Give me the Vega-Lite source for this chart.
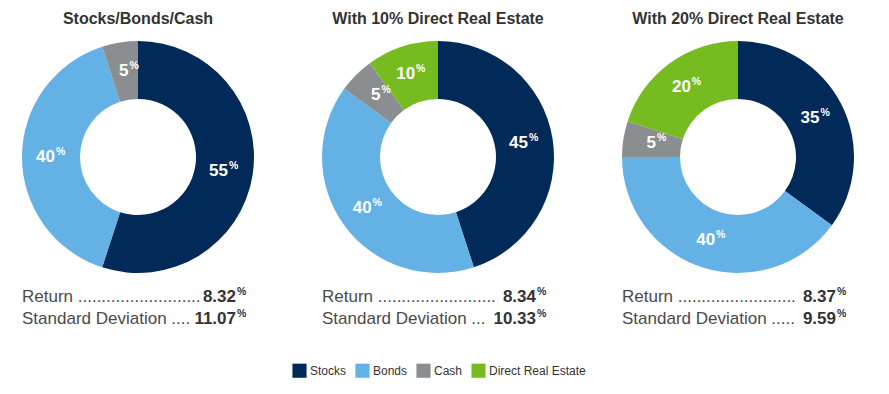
{
  "$schema": "https://vega.github.io/schema/vega-lite/v6.json",
  "padding": {"left": 22, "top": 11, "right": 0, "bottom": 0},
  "background": "white",
  "data": {
    "values": [
      {"portfolio": "Stocks/Bonds/Cash", "asset": "Stocks", "seq": 1, "pct": 55},
      {"portfolio": "Stocks/Bonds/Cash", "asset": "Bonds", "seq": 2, "pct": 40},
      {"portfolio": "Stocks/Bonds/Cash", "asset": "Cash", "seq": 3, "pct": 5},
      {"portfolio": "With 10% Direct Real Estate", "asset": "Stocks", "seq": 1, "pct": 45},
      {"portfolio": "With 10% Direct Real Estate", "asset": "Bonds", "seq": 2, "pct": 40},
      {"portfolio": "With 10% Direct Real Estate", "asset": "Cash", "seq": 3, "pct": 5},
      {"portfolio": "With 10% Direct Real Estate", "asset": "Direct Real Estate", "seq": 4, "pct": 10},
      {"portfolio": "With 20% Direct Real Estate", "asset": "Stocks", "seq": 1, "pct": 35},
      {"portfolio": "With 20% Direct Real Estate", "asset": "Bonds", "seq": 2, "pct": 40},
      {"portfolio": "With 20% Direct Real Estate", "asset": "Cash", "seq": 3, "pct": 5},
      {"portfolio": "With 20% Direct Real Estate", "asset": "Direct Real Estate", "seq": 4, "pct": 20},
      {"portfolio": "Stocks/Bonds/Cash", "metric": "Return", "leader": "Return ..........................", "value": 8.32},
      {"portfolio": "Stocks/Bonds/Cash", "metric": "Standard Deviation", "leader": "Standard Deviation ....", "value": 11.07},
      {"portfolio": "With 10% Direct Real Estate", "metric": "Return", "leader": "Return .........................", "value": 8.34},
      {"portfolio": "With 10% Direct Real Estate", "metric": "Standard Deviation", "leader": "Standard Deviation ...", "value": 10.33},
      {"portfolio": "With 20% Direct Real Estate", "metric": "Return", "leader": "Return .........................", "value": 8.37},
      {"portfolio": "With 20% Direct Real Estate", "metric": "Standard Deviation", "leader": "Standard Deviation .....", "value": 9.59}
    ]
  },
  "facet": {
    "column": {
      "field": "portfolio",
      "type": "nominal",
      "sort": ["Stocks/Bonds/Cash", "With 10% Direct Real Estate", "With 20% Direct Real Estate"],
      "header": {
        "title": null,
        "labelFont": "Liberation Sans",
        "labelFontSize": 16,
        "labelFontWeight": "bold",
        "labelColor": "#333333",
        "labelPadding": 14
      }
    }
  },
  "spacing": 68,
  "spec": {
    "width": 232,
    "height": 232,
    "layer": [
      {
        "transform": [{"filter": "isValid(datum.pct)"}],
        "mark": {"type": "arc", "outerRadius": 116, "innerRadius": 58},
        "encoding": {
          "theta": {"field": "pct", "type": "quantitative", "stack": true},
          "order": {"field": "seq", "type": "quantitative"},
          "color": {
            "field": "asset",
            "type": "nominal",
            "scale": {
              "domain": ["Stocks", "Bonds", "Cash", "Direct Real Estate"],
              "range": ["#022a58", "#63b1e5", "#8b8e90", "#76bc21"]
            },
            "legend": {"title": null, "orient": "none", "direction": "horizontal", "legendX": 270, "legendY": 322}
          }
        }
      },
      {
        "transform": [{"filter": "isValid(datum.pct)"}],
        "mark": {"type": "text", "radius": 87, "align": "right", "baseline": "middle", "dx": 4, "fontSize": 17, "fontWeight": "bold", "color": "white", "font": "Liberation Sans"},
        "encoding": {
          "theta": {"field": "pct", "type": "quantitative", "stack": true},
          "order": {"field": "seq", "type": "quantitative"},
          "text": {"field": "pct", "type": "quantitative"}
        }
      },
      {
        "transform": [{"filter": "isValid(datum.pct)"}],
        "mark": {"type": "text", "radius": 87, "align": "left", "baseline": "middle", "dx": 5, "dy": -5, "fontSize": 10.5, "fontWeight": "bold", "color": "white", "font": "Liberation Sans"},
        "encoding": {
          "theta": {"field": "pct", "type": "quantitative", "stack": true},
          "order": {"field": "seq", "type": "quantitative"},
          "text": {"value": "%"}
        }
      },
      {
        "transform": [{"filter": "isValid(datum.metric)"}],
        "mark": {"type": "text", "align": "left", "baseline": "middle", "fontSize": 17, "color": "#4a4a4a", "font": "Liberation Sans"},
        "encoding": {
          "x": {"value": 0},
          "y": {"field": "metric", "type": "nominal", "scale": {"type": "point", "range": [256, 278], "padding": 0}, "axis": null},
          "text": {"field": "leader", "type": "nominal"}
        }
      },
      {
        "transform": [{"filter": "isValid(datum.metric)"}],
        "mark": {"type": "text", "align": "right", "baseline": "middle", "fontSize": 17, "fontWeight": "bold", "color": "#333333", "font": "Liberation Sans"},
        "encoding": {
          "x": {"value": 214},
          "y": {"field": "metric", "type": "nominal", "scale": {"type": "point", "range": [256, 278], "padding": 0}, "axis": null},
          "text": {"field": "value", "type": "quantitative", "format": ".2f"}
        }
      },
      {
        "transform": [{"filter": "isValid(datum.metric)"}],
        "mark": {"type": "text", "align": "left", "baseline": "middle", "dx": 1, "dy": -5, "fontSize": 10.5, "fontWeight": "bold", "color": "#333333", "font": "Liberation Sans"},
        "encoding": {
          "x": {"value": 214},
          "y": {"field": "metric", "type": "nominal", "scale": {"type": "point", "range": [256, 278], "padding": 0}, "axis": null},
          "text": {"value": "%"}
        }
      }
    ]
  },
  "config": {
    "view": {"stroke": null},
    "font": "Liberation Sans",
    "legend": {
      "symbolType": "square",
      "symbolSize": 200,
      "symbolStrokeWidth": 0,
      "symbolOpacity": 1,
      "labelFont": "Liberation Sans",
      "labelFontSize": 12,
      "labelColor": "#333333",
      "labelOffset": 3,
      "columnPadding": 8
    }
  }
}
